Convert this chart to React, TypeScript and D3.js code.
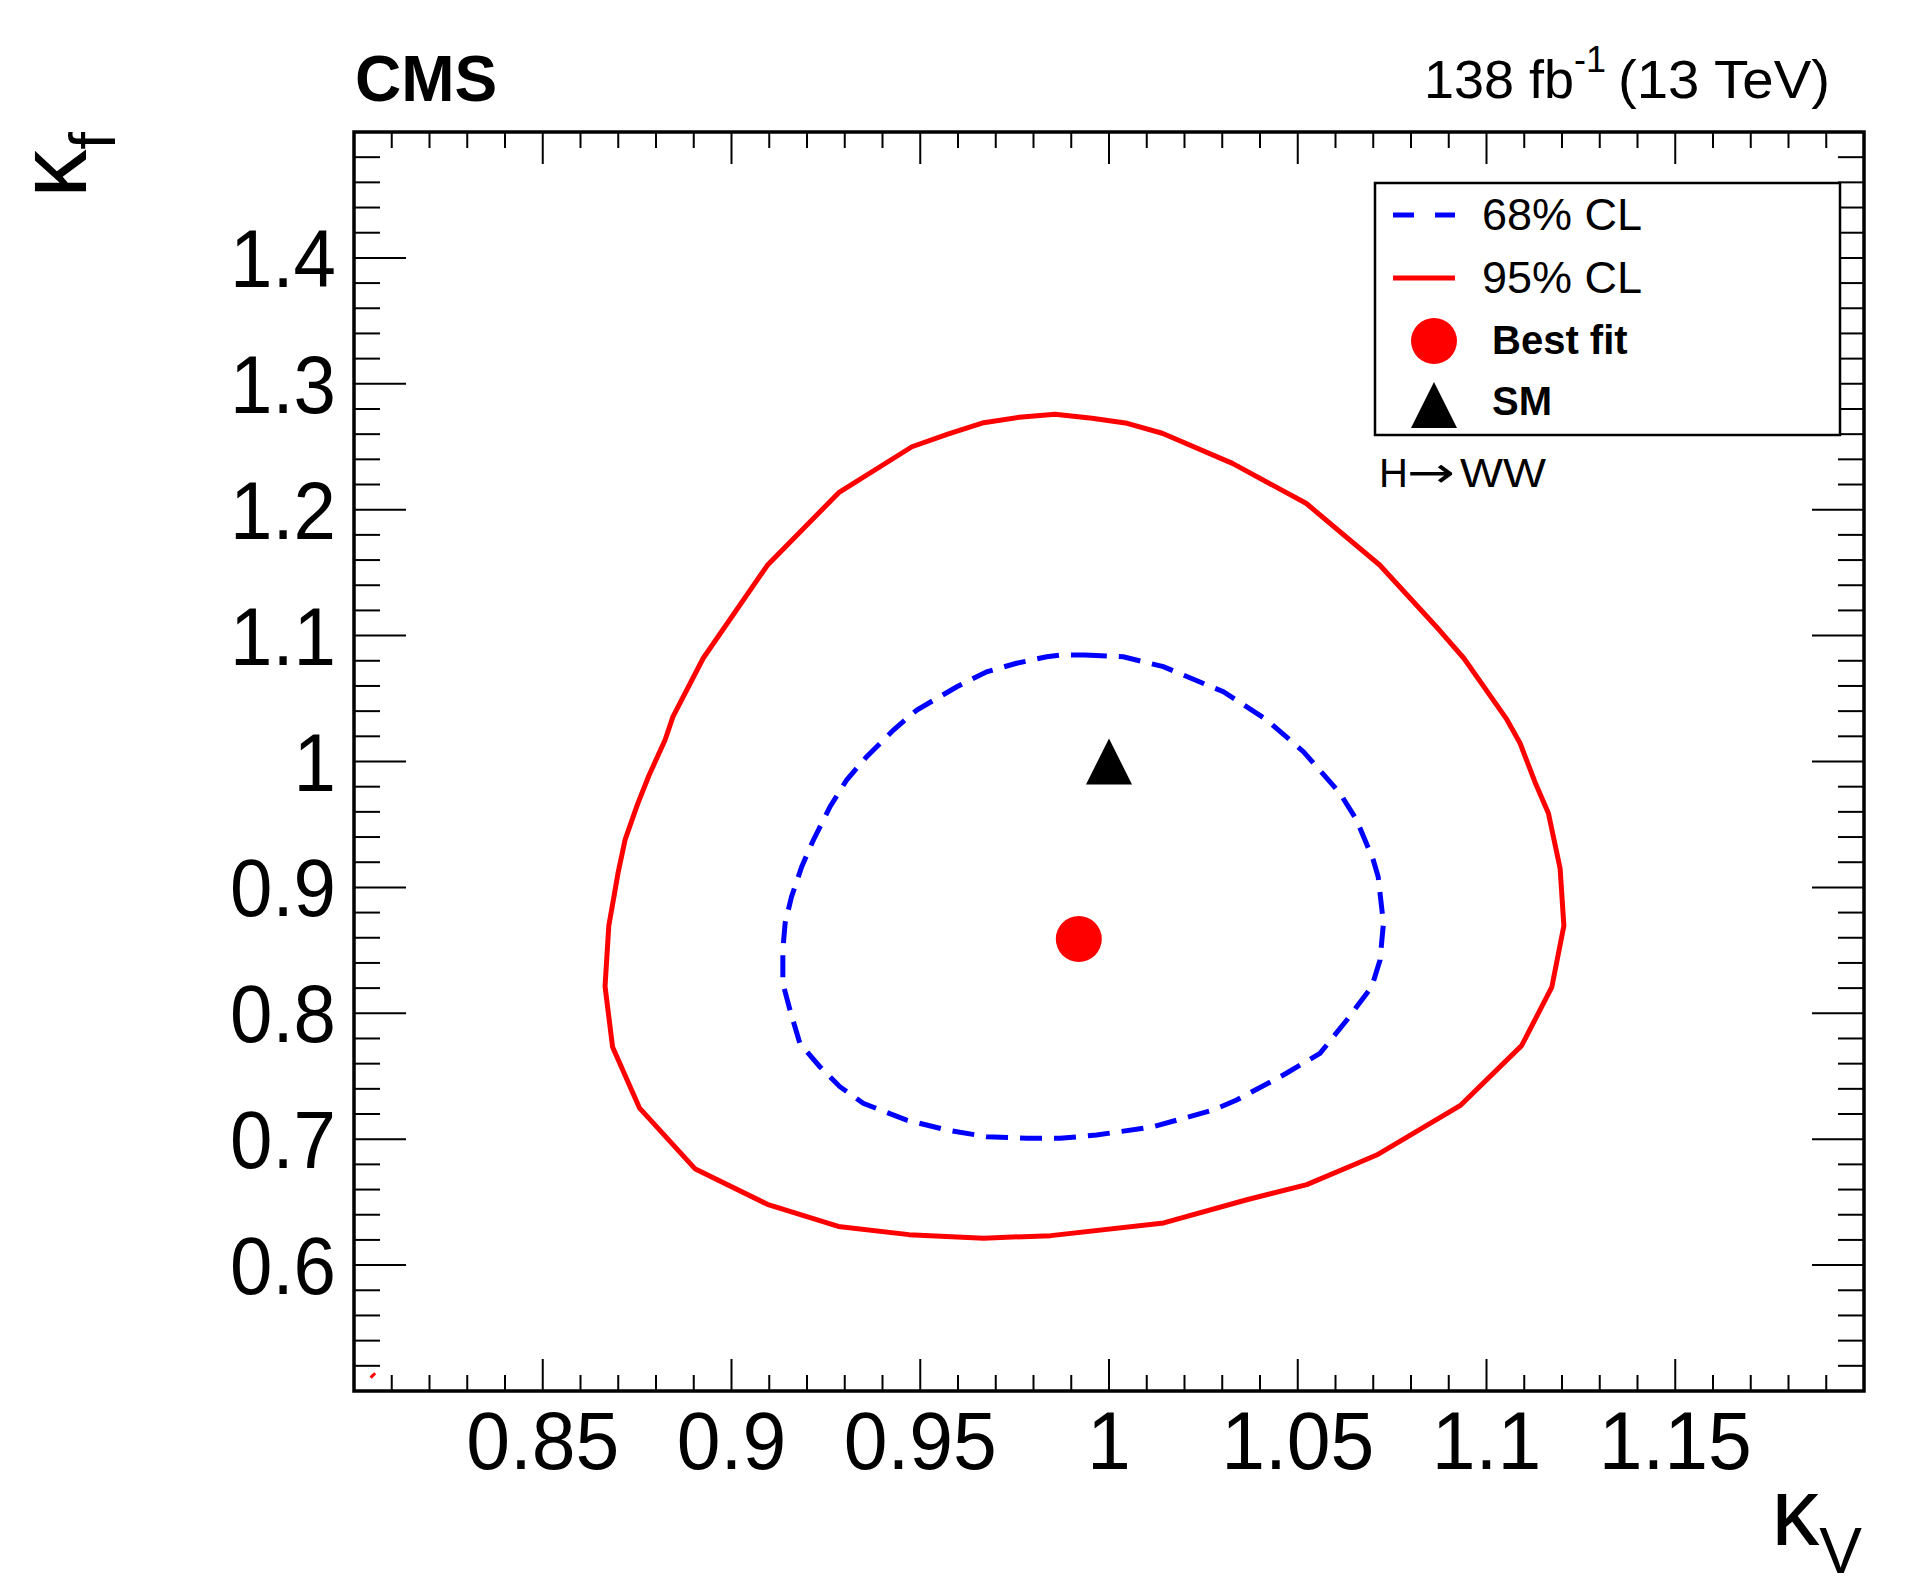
import React from "react";
import * as d3 from "d3";

// ---------- data (kappa_V, kappa_f) ----------
const contour68: [number, number][] = [
  [0.9936, 1.0846], [1.0038, 1.0832], [1.0144, 1.0753], [1.0303, 1.0554], [1.0418, 1.033],
  [1.0515, 1.0078], [1.0612, 0.9747], [1.0656, 0.9535], [1.07, 0.9218], [1.0713, 0.9085],
  [1.0727, 0.8715], [1.0718, 0.8423], [1.0696, 0.8211], [1.063, 0.7947], [1.0559, 0.7682],
  [1.0462, 0.751], [1.0338, 0.7311], [1.0276, 0.7232], [1.0117, 0.7099], [0.9967, 0.7033],
  [0.987, 0.7007], [0.9782, 0.7007], [0.9676, 0.702], [0.957, 0.7073], [0.9464, 0.7152],
  [0.9349, 0.7285], [0.9287, 0.7417], [0.9234, 0.7576], [0.9181, 0.7762], [0.9155, 0.8026],
  [0.9136, 0.8238], [0.9136, 0.8503], [0.9142, 0.8715], [0.9159, 0.8926], [0.9186, 0.9164],
  [0.9217, 0.9377], [0.9261, 0.9641], [0.9305, 0.9853], [0.9358, 1.0038], [0.9429, 1.025],
  [0.9491, 1.0409], [0.9597, 1.0594], [0.9676, 1.0713], [0.9755, 1.078], [0.9835, 1.0832],
  [0.9875, 1.0846],
];

const contour95: [number, number][] = [
  [0.9857, 1.2758], [0.9955, 1.2726], [1.0048, 1.2686], [1.0141, 1.2607], [1.0327, 1.2368],
  [1.0522, 1.2051], [1.0717, 1.1561], [1.0875, 1.1044], [1.094, 1.082], [1.1052, 1.0343],
  [1.1089, 1.0145], [1.1128, 0.984], [1.1164, 0.9589], [1.1195, 0.915], [1.1205, 0.8695],
  [1.1173, 0.8208], [1.1093, 0.7743], [1.093, 0.7266], [1.0709, 0.6874], [1.0647, 0.6795],
  [1.0524, 0.6639], [1.0365, 0.6519], [1.0145, 0.6335], [0.9846, 0.6234], [0.9668, 0.6214],
  [0.947, 0.6242], [0.9283, 0.6307], [0.9095, 0.6483], [0.8903, 0.6766], [0.8756, 0.7249],
  [0.8685, 0.7732], [0.8665, 0.8214], [0.8675, 0.8696], [0.87, 0.9122], [0.8718, 0.9377],
  [0.8751, 0.966], [0.8781, 0.9887], [0.8824, 1.0171], [0.8845, 1.0356], [0.8925, 1.082],
  [0.9095, 1.1558], [0.9284, 1.2135], [0.9478, 1.25], [0.9573, 1.2601], [0.9668, 1.2691],
  [0.9762, 1.2734],
];

const contour95Fragment: [number, number][] = [[0.8044, 0.5106], [0.8056, 0.5141]];

const bestFit: [number, number] = [0.992, 0.859];
const smPoint: [number, number] = [1.0, 1.0];

const xMajorTicks = [0.85, 0.9, 0.95, 1.0, 1.05, 1.1, 1.15];
const xTickLabels = ["0.85", "0.9", "0.95", "1", "1.05", "1.1", "1.15"];
const yMajorTicks = [0.6, 0.7, 0.8, 0.9, 1.0, 1.1, 1.2, 1.3, 1.4];
const yTickLabels = ["0.6", "0.7", "0.8", "0.9", "1", "1.1", "1.2", "1.3", "1.4"];

const legendLabels = ["68% CL", "95% CL", "Best fit", "SM"];

const FONT = "'Liberation Sans', Arial, Helvetica, sans-serif";

export default function App() {
  const W = 1922, H = 1592;
  const L = 354, R = 1864, T = 132, B = 1391;
  const x = d3.scaleLinear().domain([0.8, 1.2]).range([L, R]);
  const y = d3.scaleLinear().domain([0.5, 1.5]).range([B, T]);

  const closed = d3.line<[number, number]>().x(d => x(d[0])).y(d => y(d[1])).curve(d3.curveLinearClosed);
  const open = d3.line<[number, number]>().x(d => x(d[0])).y(d => y(d[1]));

  const xMinor = x.ticks(40).filter(v => !xMajorTicks.some(m => Math.abs(m - v) < 1e-6));
  const yMinor = y.ticks(50).filter(v => !yMajorTicks.some(m => Math.abs(m - v) < 1e-6));

  const tri = (cx: number, cy: number, s: number) =>
    `M${cx},${cy - s / 2} L${cx + s / 2},${cy + s / 2} L${cx - s / 2},${cy + s / 2} Z`;

  const legX = 1375, legY = 183, legW = 465, legH = 252;
  const symX = 1434, txtX = 1482;

  return (
    <svg width={W} height={H} style={{ position: "absolute", left: 0, top: 0, background: "#fff" }}
      fontFamily={FONT}>
      <rect x={0} y={0} width={W} height={H} fill="#fff" />

      {/* contours */}
      <path d={closed(contour95) || ""} fill="none" stroke="#ff0000" strokeWidth={5} strokeLinejoin="round" />
      <path d={open(contour95Fragment) || ""} fill="none" stroke="#ff0000" strokeWidth={3} />
      <path d={closed(contour68) || ""} fill="none" stroke="#0000ff" strokeWidth={5} strokeDasharray="22 12" />

      {/* markers */}
      <circle cx={x(bestFit[0])} cy={y(bestFit[1])} r={23} fill="#ff0000" />
      <path d={tri(x(smPoint[0]), y(smPoint[1]), 46)} fill="#000" />

      {/* frame ticks */}
      <g stroke="#000" strokeWidth={2}>
        {xMajorTicks.map(v => (
          <g key={"xM" + v}>
            <line x1={x(v)} x2={x(v)} y1={B} y2={B - 32} />
            <line x1={x(v)} x2={x(v)} y1={T} y2={T + 32} />
          </g>
        ))}
        {xMinor.map(v => (
          <g key={"xm" + v}>
            <line x1={x(v)} x2={x(v)} y1={B} y2={B - 16} />
            <line x1={x(v)} x2={x(v)} y1={T} y2={T + 16} />
          </g>
        ))}
        {yMajorTicks.map(v => (
          <g key={"yM" + v}>
            <line x1={L} x2={L + 52} y1={y(v)} y2={y(v)} />
            <line x1={R} x2={R - 52} y1={y(v)} y2={y(v)} />
          </g>
        ))}
        {yMinor.map(v => (
          <g key={"ym" + v}>
            <line x1={L} x2={L + 26} y1={y(v)} y2={y(v)} />
            <line x1={R} x2={R - 26} y1={y(v)} y2={y(v)} />
          </g>
        ))}
      </g>
      <rect x={L} y={T} width={R - L} height={B - T} fill="none" stroke="#000" strokeWidth={3.5} />

      {/* tick labels */}
      {xMajorTicks.map((v, i) => (
        <g key={"xl" + v} transform={`translate(${x(v)},1469)`}>
          <text transform="scale(0.96,1)" textAnchor="middle" fontSize={82} fill="#000">{xTickLabels[i]}</text>
        </g>
      ))}
      {yMajorTicks.map((v, i) => (
        <g key={"yl" + v} transform={`translate(336,${y(v) + 29})`}>
          <text transform="scale(0.93,1)" textAnchor="end" fontSize={82} fill="#000">{yTickLabels[i]}</text>
        </g>
      ))}

      {/* axis titles */}
      <text x={1862} y={1545} textAnchor="end" fill="#000">
        <tspan fontSize={96}>κ</tspan>
        <tspan fontSize={64} dy={28}>V</tspan>
      </text>
      <text transform="translate(86,132) rotate(-90)" textAnchor="end" fill="#000">
        <tspan fontSize={96}>κ</tspan>
        <tspan fontSize={64} dy={29}>f</tspan>
      </text>

      {/* header */}
      <text x={355} y={101} fontSize={64} fontWeight="bold" fill="#000">CMS</text>
      <text y={98} fontSize={54} fill="#000">
        <tspan x={1424}>138 fb</tspan>
        <tspan x={1574} y={72} fontSize={36}>-1</tspan>
        <tspan x={1618} y={98} textLength={212} lengthAdjust="spacingAndGlyphs">(13 TeV)</tspan>
      </text>

      {/* legend */}
      <rect x={legX} y={legY} width={legW} height={legH} fill="#fff" stroke="#000" strokeWidth={2.5} />
      <line x1={1393} x2={1455} y1={215} y2={215} stroke="#0000ff" strokeWidth={5} strokeDasharray="21 21" />
      <text x={txtX} y={230} fontSize={45} fill="#000">{legendLabels[0]}</text>
      <line x1={1393} x2={1455} y1={278} y2={278} stroke="#ff0000" strokeWidth={5} />
      <text x={txtX} y={293} fontSize={45} fill="#000">{legendLabels[1]}</text>
      <circle cx={symX} cy={341} r={23} fill="#ff0000" />
      <text x={1492} y={354} fontSize={40} fontWeight="bold" fill="#000">{legendLabels[2]}</text>
      <path d={tri(symX, 405, 46)} fill="#000" />
      <text x={1492} y={415} fontSize={40} fontWeight="bold" fill="#000">{legendLabels[3]}</text>

      <text y={487} fontSize={40} fill="#000">
        <tspan x={1379}>H</tspan>
        <tspan x={1407} fontFamily="'DejaVu Sans', sans-serif" fontSize={42} textLength={48} lengthAdjust="spacingAndGlyphs">→</tspan>
        <tspan x={1460} textLength={86} lengthAdjust="spacingAndGlyphs">WW</tspan>
      </text>
    </svg>
  );
}
